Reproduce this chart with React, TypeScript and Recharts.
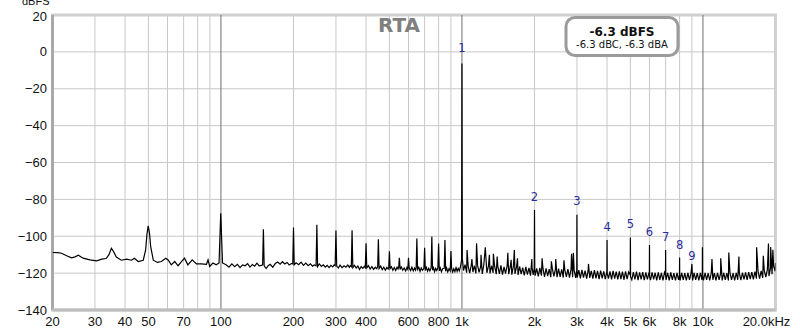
import {
  ComposedChart,
  Line,
  Scatter,
  XAxis,
  YAxis,
  CartesianGrid,
  ReferenceLine,
  ReferenceArea,
} from 'recharts';

// spectrum trace, [frequency Hz, level dBFS]
const lowBand: [number, number][] = [
  [20, -108.8], [21, -108.9], [21.8, -109.2], [22.9, -110.6], [24, -111.7], [24.8, -111.2],
  [25.6, -110.3], [26.8, -111.9], [28.6, -112.8], [30.5, -113.3], [32, -112.4], [33.4, -112.1],
  [34.3, -110], [35.1, -106.5], [35.9, -108.5], [36.8, -111.3], [38.6, -113], [40.6, -112.4],
  [42.6, -113], [43.7, -111.9], [45.4, -113.7], [47.6, -113], [48.7, -107.4], [49.3, -99],
  [49.9, -94.4], [50.5, -98], [51.1, -105.6], [52.4, -113], [54.5, -114.2], [56.6, -113.7],
  [59, -111.9], [60.5, -113], [62.2, -115.5], [64.3, -113.7], [66.4, -116], [68.6, -113.8],
  [70.6, -111.9], [72.9, -115.5], [76, -112.8], [79.1, -115], [82.9, -115], [87.1, -115.2],
  [88.4, -112.8], [89.8, -116.4], [92.6, -114.5], [95.6, -115.5], [98.2, -114.5],
  [99.8, -87.5], [101.5, -114.5],
];

const midBand: [number, number][] = [
  [105, -115.5], [108, -116.8], [111, -115], [114, -116.5], [117, -115.2], [120, -117],
  [123, -115.5], [126, -116], [129, -114.8], [132, -116.7], [135, -115.3], [138, -116.2],
  [141, -114.6], [144, -116], [147, -115.8], [148.9, -115.5], [150, -96.2], [151.1, -116],
  [154, -117.5], [157, -116], [160, -115.2], [164, -116.8], [168, -114.8], [172, -114],
  [176, -115.2], [180, -113.8], [184, -115], [188, -114.2], [192, -115.6], [196, -114.8],
  [198.6, -115], [200, -95.3], [201.4, -115.5], [205, -114.4], [210, -115.4], [215, -114],
  [220, -115.8], [225, -114.6], [230, -116], [235, -115], [240, -116.2], [244, -115.6],
  [248.2, -116], [250, -93.8], [251.8, -116.4], [256, -115], [261, -116.4], [266, -115.5],
  [271, -116.8], [276, -115.8], [281, -117], [286, -115.8], [291, -116.6], [295, -115.5],
  [297.8, -116], [300, -96.9], [302.2, -116.2], [307, -117.2], [312, -115.6], [318, -117],
  [324, -116], [330, -116.8], [336, -115.6], [341, -116.9], [344, -116], [347.5, -116.5],
  [350, -96.7], [352.5, -117], [358, -115.8], [364, -117.2], [370, -116.2], [376, -118],
  [382, -116.4], [388, -117.4], [394, -116.3], [397.2, -117], [400, -103.8], [402.8, -117.2],
  [409, -116], [416, -117.8], [423, -116.5], [430, -118], [437, -116.8], [443, -117.6],
  [447, -116.5], [450, -101.6], [453, -117.5], [460, -116.2], [467, -118.2], [474, -116.8],
  [481, -118.4], [488, -116.9], [494, -117.8], [496.7, -117], [500, -108.2], [503.3, -117.6],
  [510, -116.5], [517, -118.5], [524, -117], [531, -118.6], [538, -116.8], [543, -117.8],
  [546.3, -116.8], [550, -111.7], [553.7, -118], [560, -116.6], [568, -118.4], [576, -117.2],
  [584, -118.8], [591, -117], [596, -118], [600, -111.7], [604, -117.2], [612, -118.6],
  [620, -116.8], [628, -118.8], [636, -117.2], [642, -118.4], [645.7, -117], [650, -101.2],
  [654.3, -118], [662, -116.8], [670, -119], [678, -117.2], [686, -118.5], [695.3, -117.4],
  [700, -106.3], [704.7, -118.6], [712, -116.9], [720, -119], [728, -117.4], [736, -118.8],
  [745, -117], [750, -100.2], [755, -118.4], [762, -117], [770, -119.2], [778, -117.4],
  [786, -118.6], [794.6, -117], [800, -104], [805.4, -118.8], [813, -117.2], [822, -119.2],
  [832, -117.6], [844.3, -117.4], [850, -102], [855.7, -119], [864, -117.2], [873, -119.3],
  [884, -117.6], [894, -118.8], [900, -108], [906, -117.4], [915, -119.4], [925, -117.6],
  [935, -119.2], [945, -117], [955, -119], [965, -117.4], [975, -118.8], [985, -116.8],
  [993, -114], [996.6, -113], [1000, -6.3], [1003.4, -112],
];

const highBand: [number, number][] = [
  [1015, -118.6], [1030, -115.4], [1046, -119.8], [1050, -107.4], [1061, -116.2], [1077, -120],
  [1093, -115.6], [1100, -112.4], [1110, -119.4], [1126, -116], [1143, -120.2], [1150, -103.8],
  [1161, -115.8], [1178, -119.6], [1196, -116.4], [1200, -110], [1214, -120.4], [1232, -115.6],
  [1250, -106], [1269, -119.8], [1288, -116.2], [1300, -110], [1307, -120.2], [1327, -116],
  [1347, -119.8], [1350, -109.5], [1367, -116.4], [1388, -120.6], [1400, -111], [1408, -116.2],
  [1430, -120.4], [1451, -115.8], [1473, -120.8], [1495, -116.6], [1517, -120.2], [1540, -116],
  [1550, -109], [1563, -120.6], [1587, -116.4], [1600, -112.8], [1610, -120.8], [1635, -116.2],
  [1650, -107.4], [1659, -120.4], [1684, -116.8], [1700, -112], [1709, -121], [1735, -116.4],
  [1761, -120.6], [1787, -117], [1814, -121.2], [1841, -116.6], [1869, -120.8], [1897, -117.2],
  [1925, -121.4], [1950, -112.4], [1954, -117], [1975, -121], [1995, -117.4], [2000, -85.7],
  [2005, -118], [2013, -121.4], [2043, -117.4], [2074, -121.8], [2105, -117.2], [2137, -121.4],
  [2150, -112], [2169, -117.6], [2201, -122], [2234, -117.4], [2268, -121.6], [2302, -117.8],
  [2337, -122.2], [2350, -113.6], [2372, -117.6], [2407, -121.8], [2443, -117.8], [2450, -112.4],
  [2480, -122.2], [2517, -117.6], [2555, -122], [2593, -118], [2632, -122.4], [2650, -113],
  [2672, -118.2], [2712, -122], [2752, -117.8], [2794, -122.4], [2835, -118], [2850, -109.5],
  [2878, -122.2], [2900, -109], [2921, -118.4], [2965, -122.6], [2995, -118.2], [3000, -88.4],
  [3005, -119], [3009, -122.4], [3055, -118.4], [3100, -122.8], [3147, -118.2], [3194, -122.4],
  [3242, -118.6], [3291, -123], [3340, -118.4], [3350, -115], [3390, -122.6], [3441, -118.8],
  [3493, -123], [3545, -118.4], [3598, -122.8], [3652, -118.8], [3707, -123.2], [3762, -118.6],
  [3819, -122.8], [3876, -119], [3934, -123.2], [3993, -119], [4000, -102], [4007, -120],
  [4053, -123], [4114, -119], [4176, -123.4], [4238, -118.8], [4302, -123], [4366, -119.2],
  [4432, -123.4], [4498, -119], [4566, -123.2], [4634, -119.2], [4704, -123.6], [4774, -119],
  [4846, -123.2], [4919, -119.4], [4992, -121], [5000, -100.7], [5008, -122], [5067, -123.6],
  [5143, -119.4], [5220, -123.4], [5299, -119.2], [5378, -123.8], [5459, -119.6], [5541, -123.4],
  [5624, -119.4], [5708, -123.8], [5794, -119.6], [5881, -123.4], [5969, -119.8], [5992, -121],
  [6000, -104.8], [6008, -122], [6059, -123.8], [6150, -119.6], [6242, -123.4], [6336, -119.8],
  [6431, -124], [6527, -119.6], [6625, -123.6], [6724, -119.8], [6825, -124], [6927, -119.6],
  [6992, -121], [7000, -107.4], [7008, -122], [7031, -123.6], [7137, -119.8], [7244, -124],
  [7353, -119.6], [7463, -123.6], [7575, -120], [7689, -124], [7804, -119.8], [7921, -123.6],
  [7992, -121], [8000, -111.5], [8008, -122], [8040, -124], [8160, -119.8], [8283, -123.6],
  [8407, -120], [8533, -124], [8661, -119.8], [8791, -123.6], [8923, -120], [9000, -115],
  [9057, -124], [9193, -119.8], [9331, -123.6], [9471, -120], [9613, -124], [9757, -119.8],
  [9903, -123.6], [9940, -121], [9950, -106], [9960, -121], [10052, -124], [10203, -119.8],
  [10356, -123.6], [10511, -120], [10669, -124], [10829, -119.8], [10900, -112.4], [10991, -123.6],
  [11156, -120], [11323, -124], [11493, -119.8], [11666, -123.6], [11841, -120], [11850, -112],
  [12018, -124], [12199, -119.8], [12382, -123.6], [12567, -120], [12756, -124], [12800, -108.8],
  [12947, -119.8], [13141, -123.6], [13338, -120], [13538, -124], [13742, -119.8], [13948, -123.6],
  [14100, -111], [14157, -120], [14369, -123.8], [14585, -119.8], [14804, -123.4], [15026, -119.6],
  [15251, -123.6], [15480, -119.4], [15712, -123.2], [15948, -119.4], [16187, -123.4],
  [16430, -119.2], [16677, -123], [16700, -106], [16927, -119], [17181, -123], [17438, -118.8],
  [17700, -122.6], [17800, -110.6], [17965, -118.6], [18235, -122.2], [18508, -118], [18700, -104],
  [18786, -121.6], [19068, -117.2], [19100, -105.8], [19354, -120.6], [19500, -107.4],
  [19644, -116.2], [19939, -119], [20000, -114.5],
];

// numbered harmonic markers (label anchor level in dBFS)
const harmonicFreqs = [1000, 2000, 3000, 4000, 5000, 6000, 7000, 8000, 9000];
const harmonicLabelDb = [2.2, -78.6, -80.8, -94.9, -93.3, -97.6, -100.3, -104.7, -110.6];
const harmonicNames = ['1', '2', '3', '4', '5', '6', '7', '8', '9'];

const xTicks = [20, 30, 40, 50, 70, 100, 200, 300, 400, 600, 800, 1000, 2000, 3000, 4000, 5000, 6000, 8000, 10000, 20000];
const xTickLabels = ['20', '30', '40', '50', '70', '100', '200', '300', '400', '600', '800', '1k', '2k', '3k', '4k', '5k', '6k', '8k', '10k', '20.0kHz'];
const yTicks = [-140, -120, -100, -80, -60, -40, -20, 0, 20];

const minorGridFreqs = [30, 40, 50, 60, 70, 80, 90, 200, 300, 400, 500, 600, 700, 800, 900, 2000, 3000, 4000, 5000, 6000, 7000, 8000, 9000];
const decadeFreqs = [100, 1000, 10000];

const spectrum = [...lowBand, ...midBand, ...highBand].map(([f, v]) => ({ f, v }));
const harmonicMarks = harmonicFreqs.map((f, i) => ({ f, v: harmonicLabelDb[i], n: harmonicNames[i] }));

const AXIS_FONT = '"Liberation Sans", Arial, sans-serif';

const XTick = ({ x, payload }: any) => {
  const idx = xTicks.indexOf(payload.value);
  const label = xTickLabels[idx] ?? '';
  const shift = payload.value === 20000 ? -9 : 0;
  return (
    <text x={x + shift} y={326} textAnchor="middle" fontSize={13} fontFamily={AXIS_FONT} fill="#111">
      {label}
    </text>
  );
};

const YTick = ({ y, payload }: any) => {
  const v = payload.value as number;
  const label = v < 0 ? `\u2212${Math.abs(v)}` : `${v}`;
  const down = v === 20 ? 1 : 0;
  return (
    <text x={47} y={y + 4.5 + down} textAnchor="end" fontSize={13} fontFamily={AXIS_FONT} fill="#111">
      {label}
    </text>
  );
};

const HarmonicLabel = ({ cx, cy, payload }: any) => (
  <text
    x={cx}
    y={cy}
    textAnchor="middle"
    dominantBaseline="central"
    fontSize={11.5}
    fontFamily='"DejaVu Sans", sans-serif'
    fill="#2c2c99"
  >
    {payload.n}
  </text>
);

export default function App() {
  return (
    <div style={{ position: 'absolute', left: 0, top: 0, width: 800, height: 331, background: '#fff' }}>
      <ComposedChart width={800} height={331} margin={{ top: 15, right: 24.5, bottom: 0, left: 0 }}>
        <CartesianGrid vertical={false} stroke="#c8c8c8" />
        <XAxis
          dataKey="f"
          type="number"
          scale="log"
          domain={[20, 20000]}
          allowDataOverflow
          ticks={xTicks}
          interval={0}
          tick={<XTick />}
          axisLine={false}
          tickLine={false}
          height={21}
        />
        <YAxis
          type="number"
          domain={[-140, 20]}
          allowDataOverflow
          ticks={yTicks}
          interval={0}
          tick={<YTick />}
          axisLine={false}
          tickLine={false}
          width={52.5}
        />
        {minorGridFreqs.map((f) => (
          <ReferenceLine key={`g${f}`} x={f} stroke="#c8c8c8" strokeWidth={1} />
        ))}
        {decadeFreqs.map((f) => (
          <ReferenceLine key={`d${f}`} x={f} stroke="#6e6e6e" strokeWidth={1} />
        ))}
        <ReferenceArea x1={20} x2={20000} y1={-140} y2={20} fill="none" stroke="#d0d0d0" strokeWidth={3} />
        <ReferenceLine x={20} stroke="#a8a8a8" strokeWidth={3} />
        <ReferenceLine y={-140} stroke="#bdbdbd" strokeWidth={3} />
        <Line
          data={spectrum}
          dataKey="v"
          type="linear"
          stroke="#000"
          strokeWidth={1.2}
          dot={false}
          isAnimationActive={false}
        />
        <Scatter data={harmonicMarks} dataKey="v" shape={<HarmonicLabel />} isAnimationActive={false} />
      </ComposedChart>
      <svg width={800} height={331} style={{ position: 'absolute', left: 0, top: 0, pointerEvents: 'none' }}>
        <text x={22} y={4.5} fontSize={11} fontFamily={AXIS_FONT} fill="#111">dBFS</text>
        <text x={399} y={32} textAnchor="middle" fontSize={20} fontWeight="bold" fontFamily='"DejaVu Sans", sans-serif' fill="#7f7f7f">
          RTA
        </text>
        <rect x={566} y={17.5} width={112} height={38} rx={9} fill="#fff" stroke="#9a9a9a" strokeWidth={3} />
        <text x={622} y={36} textAnchor="middle" fontSize={12} fontWeight="bold" fontFamily='"DejaVu Sans", sans-serif' fill="#111">
          -6.3 dBFS
        </text>
        <text x={622} y={47.5} textAnchor="middle" fontSize={10} fontFamily='"DejaVu Sans", sans-serif' fill="#111">
          -6.3 dBC, -6.3 dBA
        </text>
      </svg>
    </div>
  );
}
